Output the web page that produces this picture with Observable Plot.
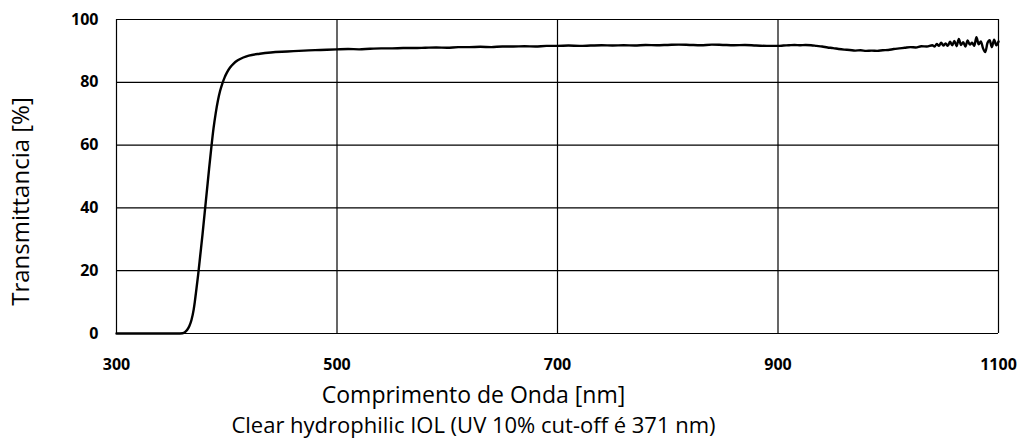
<!DOCTYPE html>
<html><head><meta charset="utf-8">
<script src="https://cdn.jsdelivr.net/npm/d3@7"></script>
<script src="https://cdn.jsdelivr.net/npm/@observablehq/plot@0.6"></script>
<style>body{margin:0;background:#fff}</style>
</head><body><div id="chart"></div>
<script>
const wavelength = [
  300, 320, 340, 355, 360, 362, 364, 366, 368, 370, 371, 372, 374, 376, 378, 380, 382, 384, 386, 388,
  390, 392, 394, 396, 398, 400, 403, 406, 410, 415, 420, 430, 440, 455, 470, 485,
  500, 510, 520, 530, 540, 550, 560, 570, 580, 590, 600, 610, 620, 630, 640, 650, 660, 670, 680, 690,
  700, 710, 720, 730, 740, 750, 760, 770, 780, 790, 800, 810, 820, 830, 840, 850, 860, 870, 880, 890,
  900, 905, 910, 915, 920, 925, 930, 935, 940, 945, 950, 955, 960, 965, 970, 975, 980, 985, 990, 995,
  1000, 1005, 1010, 1015, 1020, 1025, 1030, 1035, 1040, 1042, 1044, 1046, 1048, 1050, 1052, 1054, 1056, 1058,
  1060, 1062, 1064, 1066, 1068, 1070, 1072, 1074, 1076, 1078, 1080, 1082, 1084, 1086, 1088, 1090, 1092, 1094,
  1096, 1098, 1100
];
const transmittance = [
  0, 0, 0, 0, 0.1, 0.4, 1.1, 2.3, 4.3, 7.6, 10.0, 12.8, 18.5, 25.0, 31.5, 38.5, 45.5, 52.5, 59.2, 65.3,
  70.2, 74.2, 77.3, 79.6, 81.5, 83.0, 84.7, 85.9, 87.0, 87.9, 88.5, 89.1, 89.5, 89.8, 90.1, 90.3,
  90.5, 90.6, 90.5, 90.7, 90.8, 90.8, 90.9, 90.9, 91.0, 91.1, 91.0, 91.2, 91.2, 91.3, 91.2, 91.4, 91.4, 91.5, 91.4, 91.6,
  91.6, 91.7, 91.6, 91.7, 91.8, 91.7, 91.8, 91.7, 91.9, 91.8, 91.9, 92.0, 91.9, 91.8, 92.0, 91.9, 91.8, 91.9, 91.7, 91.6,
  91.6, 91.7, 91.8, 91.9, 91.8, 91.9, 91.8, 91.6, 91.4, 91.1, 90.9, 90.6, 90.4, 90.3, 90.1, 90.2, 90.0, 90.1, 90.0, 90.2,
  90.3, 90.6, 90.8, 91.0, 91.2, 91.1, 91.5, 91.4, 91.8, 91.4, 92.2, 91.6, 92.6, 91.7, 92.4, 91.6, 92.9, 91.8,
  93.2, 91.5, 93.8, 91.9, 92.8, 91.4, 93.3, 92.0, 92.6, 91.6, 94.4, 92.1, 93.0, 90.8, 89.6, 92.5, 93.4, 91.2,
  93.6, 91.8, 93.0
];
const xTicks = [300, 500, 700, 900, 1100];
const yTicks = [0, 20, 40, 60, 80, 100];
const xLabel = "Comprimento de Onda [nm]";
const yLabel = "Transmittancia [%]";
const subtitle = "Clear hydrophilic IOL (UV 10% cut-off é 371 nm)";

const data = wavelength.map((w, i) => ({w, t: transmittance[i]}));

const chart = Plot.plot({
  width: 1020, height: 441,
  marginLeft: 116, marginRight: 22, marginTop: 19, marginBottom: 108,
  style: {fontFamily: "'Open Sans', sans-serif", background: "#fff", color: "#000"},
  x: {domain: [300, 1100]},
  y: {domain: [0, 100]},
  marks: [
    Plot.gridX(xTicks, {stroke: "#000", strokeOpacity: 1, strokeWidth: 1.2}),
    Plot.gridY(yTicks, {stroke: "#000", strokeOpacity: 1, strokeWidth: 1.2}),
    Plot.axisX(xTicks, {tickSize: 0, tickPadding: 25, fontSize: 16, fontWeight: "bold", label: null, tickFormat: d => String(d)}),
    Plot.axisY(yTicks, {tickSize: 0, tickPadding: 18, fontSize: 16, fontWeight: "bold", label: null}),
    Plot.line(data, {x: "w", y: "t", stroke: "#000", strokeWidth: 2.4, curve: "monotone-x"}),
    Plot.text([xLabel], {frameAnchor: "bottom", dx: -84, dy: 69, fontSize: 23, fill: "#000"}),
    Plot.text([subtitle], {frameAnchor: "bottom", dx: -84, dy: 99, fontSize: 22, fill: "#000"}),
    Plot.text([yLabel], {frameAnchor: "left", textAnchor: "middle", rotate: -90, dx: -95, dy: 25, fontSize: 24, fill: "#000"})
  ]
});
document.getElementById("chart").appendChild(chart);
</script>
</body></html>
